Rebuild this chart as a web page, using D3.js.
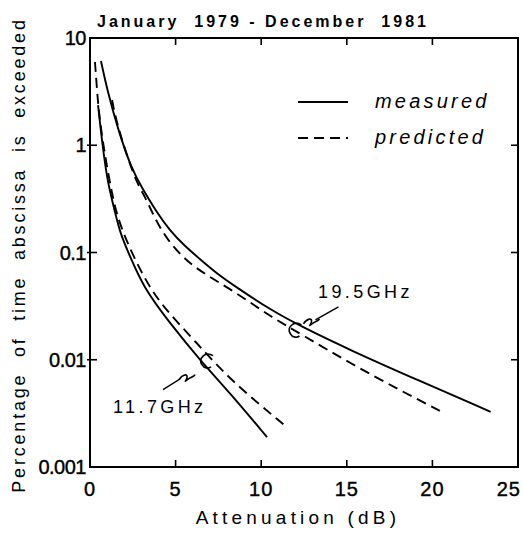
<!DOCTYPE html>
<html>
<head>
<meta charset="utf-8">
<script src="https://cdn.jsdelivr.net/npm/d3@7"></script>
<style>
  html, body { margin: 0; padding: 0; background: #fff; }
  svg { display: block; }
  text { font-family: "Liberation Sans", Arial, sans-serif; fill: #000; }
</style>
</head>
<body>
<svg id="chart" width="523" height="540"></svg>
<script>
// ---- data (attenuation dB, percentage of time exceeded) ----
const meas195_dB  = [0.64, 1.0, 1.64, 2.45, 3.04, 3.91, 4.67, 5.5, 6.6, 7.5, 8.59, 10.5, 12.44, 15.2, 19.1, 23.4];
const meas195_pct = [6.1, 3.3, 1.39, 0.59, 0.40, 0.235, 0.160, 0.116, 0.082, 0.062, 0.047, 0.0295, 0.0200, 0.0123, 0.0065, 0.00327];

const pred195_dB  = [1.29, 1.58, 2.63, 3.21, 3.80, 4.56, 5.55, 6.6, 8.59, 10.5, 12.44, 15.19, 18.1, 20.6];
const pred195_pct = [2.64, 1.54, 0.47, 0.335, 0.205, 0.128, 0.086, 0.0643, 0.0418, 0.0255, 0.0169, 0.0093, 0.0052, 0.00324];

const meas117_dB  = [0.47, 0.76, 1.05, 1.29, 1.75, 2.22, 3.1, 4.67, 6.43, 8.18, 10.34];
const meas117_pct = [2.37, 0.90, 0.444, 0.308, 0.152, 0.102, 0.0475, 0.0219, 0.0099, 0.0049, 0.0019];

const pred117_dB  = [0.29, 0.41, 0.53, 0.82, 1.29, 1.75, 3.1, 4.26, 6.25, 8.18, 11.5];
const pred117_pct = [5.97, 3.27, 1.92, 0.90, 0.343, 0.173, 0.059, 0.031, 0.0143, 0.00646, 0.00235];

const xTicks = [0, 5, 10, 15, 20, 25];
const xTickLabels = ["0", "5", "10", "15", "20", "25"];
const yTicks = [0.001, 0.01, 0.1, 1, 10];
const yTickLabels = ["0.001", "0.01", "0.1", "1", "10"];

const titleText = "January  1979 - December  1981";
const xLabel = "Attenuation (dB)";
const yLabel = "Percentage  of  time  abscissa  is  exceeded";
const legendLabels = ["measured", "predicted"];
const freqLabels = ["19.5GHz", "11.7GHz"];
// annotation anchors in data space [dB, pct]
const curlAnchors = [[12.0, 0.019], [6.6, 0.0098]];

// ---- chart ----
const svg = d3.select("#chart");
const x = d3.scaleLinear().domain([0, 25]).range([90, 518]);
const y = d3.scaleLog().domain([0.001, 10]).range([467, 38]);

const g = svg.append("g");

// frame
g.append("rect")
  .attr("x", x(0)).attr("y", y(10))
  .attr("width", x(25) - x(0)).attr("height", y(0.001) - y(10))
  .attr("fill", "none").attr("stroke", "#000").attr("stroke-width", 2);

// ticks (inward on all sides)
const tl = 7;
const innerX = xTicks.filter(d => d > 0 && d < 25);
innerX.forEach(d => {
  g.append("line").attr("x1", x(d)).attr("x2", x(d)).attr("y1", y(0.001)).attr("y2", y(0.001) - tl)
    .attr("stroke", "#000").attr("stroke-width", 1.6);
  g.append("line").attr("x1", x(d)).attr("x2", x(d)).attr("y1", y(10)).attr("y2", y(10) + tl)
    .attr("stroke", "#000").attr("stroke-width", 1.6);
});
const innerY = yTicks.filter(d => d > 0.001 && d < 10);
innerY.forEach(d => {
  g.append("line").attr("x1", x(0) - 3).attr("x2", x(0) + tl).attr("y1", y(d)).attr("y2", y(d))
    .attr("stroke", "#000").attr("stroke-width", 1.6);
  g.append("line").attr("x1", x(25)).attr("x2", x(25) - tl).attr("y1", y(d)).attr("y2", y(d))
    .attr("stroke", "#000").attr("stroke-width", 1.6);
});

// tick labels
xTicks.forEach((d, i) => {
  const last = i === xTicks.length - 1;
  g.append("text")
    .attr("x", last ? x(d) + 3 : x(d))
    .attr("y", y(0.001) + 29)
    .attr("text-anchor", last ? "end" : "middle")
    .attr("font-size", 20)
    .attr("letter-spacing", 1)
    .attr("stroke", "#000").attr("stroke-width", 0.4)
    .text(xTickLabels[i]);
});
yTicks.forEach((d, i) => {
  g.append("text")
    .attr("x", x(0) - 4)
    .attr("y", y(d) + 7)
    .attr("text-anchor", "end")
    .attr("font-size", 20)
    .attr("letter-spacing", -0.5)
    .attr("stroke", "#000").attr("stroke-width", 0.4)
    .text(yTickLabels[i]);
});

// title
g.append("text").attr("x", 97).attr("y", 27)
  .attr("font-size", 16).attr("font-weight", "bold")
  .attr("letter-spacing", 3)
  .style("white-space", "pre")
  .text(titleText);

// axis labels
g.append("text").attr("x", 298).attr("y", 524)
  .attr("text-anchor", "middle").attr("font-size", 19)
  .attr("letter-spacing", 4.2)
  .text(xLabel);
g.append("text")
  .attr("transform", "translate(25,255) rotate(-90)")
  .attr("text-anchor", "middle").attr("font-size", 18)
  .attr("letter-spacing", 2.8)
  .style("white-space", "pre")
  .text(yLabel);

// curves
const line = d3.line()
  .x(d => x(d[0])).y(d => y(d[1]))
  .curve(d3.curveBasis);
const zip = (a, b) => a.map((v, i) => [v, b[i]]);

const series = [
  { data: zip(meas195_dB, meas195_pct), dash: null },
  { data: zip(pred195_dB, pred195_pct), dash: "10,6" },
  { data: zip(meas117_dB, meas117_pct), dash: null },
  { data: zip(pred117_dB, pred117_pct), dash: "10,6" }
];
series.forEach(s => {
  g.append("path").attr("d", line(s.data))
    .attr("fill", "none").attr("stroke", "#000").attr("stroke-width", 1.9)
    .attr("stroke-dasharray", s.dash);
});

// legend
const lgX = 298, lgW = 50;
[[102, null], [138, "10,6"]].forEach((v, i) => {
  g.append("line").attr("x1", lgX).attr("x2", lgX + lgW).attr("y1", v[0]).attr("y2", v[0])
    .attr("stroke", "#000").attr("stroke-width", 1.9).attr("stroke-dasharray", v[1]);
  g.append("text").attr("x", 375).attr("y", v[0] + 6)
    .attr("font-size", 20).attr("font-style", "italic")
    .attr("letter-spacing", 3.2)
    .text(legendLabels[i]);
});

// frequency annotations with curl markers
function curl(cx, cy) {
  const p = d3.path();
  p.moveTo(cx + 6, cy - 5);
  p.bezierCurveTo(cx - 2, cy - 10, cx - 9, cy - 2, cx - 5, cy + 4);
  p.bezierCurveTo(cx - 3, cy + 8, cx + 2, cy + 8, cx + 4, cy + 6);
  return p.toString();
}
function squiggle(sx, sy) {
  const p = d3.path();
  p.moveTo(sx, sy);
  p.bezierCurveTo(sx + 4, sy - 6, sx + 9, sy - 6, sx + 8, sy - 2);
  p.bezierCurveTo(sx + 7, sy + 2, sx + 4, sy + 3, sx + 10, sy - 1);
  p.bezierCurveTo(sx + 13, sy - 3, sx + 15, sy - 3, sx + 16, sy - 5);
  return p.toString();
}
// 19.5 GHz
{
  const cx = x(curlAnchors[0][0]), cy = y(curlAnchors[0][1]);
  g.append("path").attr("d", curl(cx, cy)).attr("fill", "none").attr("stroke", "#000").attr("stroke-width", 1.6);
  g.append("path").attr("d", squiggle(cx + 8, cy - 6)).attr("fill", "none").attr("stroke", "#000").attr("stroke-width", 1.6);
  g.append("line").attr("x1", cx + 20).attr("y1", cy - 10).attr("x2", cx + 43).attr("y2", cy - 23)
    .attr("stroke", "#000").attr("stroke-width", 1.4);
  g.append("text").attr("x", 318).attr("y", 298).attr("font-size", 18).attr("letter-spacing", 3.4).text(freqLabels[0]);
}
// 11.7 GHz
{
  const cx = x(curlAnchors[1][0]), cy = y(curlAnchors[1][1]);
  g.append("path").attr("d", curl(cx + 4, cy)).attr("fill", "none").attr("stroke", "#000").attr("stroke-width", 1.6);
  g.append("path").attr("d", squiggle(cx - 24, cy + 19)).attr("fill", "none").attr("stroke", "#000").attr("stroke-width", 1.6);
  g.append("line").attr("x1", cx - 24).attr("y1", cy + 19).attr("x2", cx - 40).attr("y2", cy + 29)
    .attr("stroke", "#000").attr("stroke-width", 1.4);
  g.append("text").attr("x", 113).attr("y", 413).attr("font-size", 18).attr("letter-spacing", 3.4).text(freqLabels[1]);
}
</script>
</body>
</html>
